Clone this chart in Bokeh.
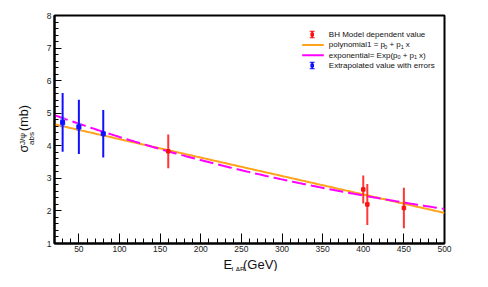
import numpy as np
from bokeh.plotting import figure
from bokeh.models import (SingleIntervalTicker, Label, BoxAnnotation)
from bokeh.embed import file_html
from bokeh.resources import INLINE

# ---- data ----
bh_x = [160, 400, 405, 450]
bh_y = [3.83, 2.66, 2.20, 2.09]
bh_err = [0.52, 0.43, 0.63, 0.62]

ext_x = [30, 50, 80]
ext_y = [4.72, 4.58, 4.37]
ext_err = [0.90, 0.83, 0.73]
ext_sys = [0.15, 0.12, 0.05]

# fit parameters
poly_p0, poly_p1 = 4.77, -0.00566
expo_p0, expo_p1 = 1.634, -0.001821
fit_range = [20, 500]

x_ticks_interval = 50
y_ticks_interval = 1

FONT = "Liberation Sans"
NB = "\u00a0"
W, H = 472, 271

p = figure(width=W, height=H, x_range=(20, 500), y_range=(1, 8),
           output_backend="svg", toolbar_location=None,
           min_border_left=54, min_border_right=28, min_border_top=15, min_border_bottom=28)
p.grid.visible = False
p.background_fill_color = "white"
p.border_fill_color = "white"
p.outline_line_color = "black"
p.outline_line_width = 2

p.xaxis.ticker = SingleIntervalTicker(interval=x_ticks_interval, num_minor_ticks=5)
p.yaxis.ticker = SingleIntervalTicker(interval=y_ticks_interval, num_minor_ticks=5)
for ax in (p.xaxis, p.yaxis):
    ax.axis_line_color = "black"
    ax.axis_line_width = 2
    ax.major_tick_out = 0
    ax.minor_tick_out = 0
    ax.major_tick_line_color = "black"
    ax.minor_tick_line_color = "black"
    ax.major_label_text_font = FONT
    ax.major_label_text_font_size = "8.5px"
    ax.major_label_text_color = "#222222"
p.xaxis.major_label_standoff = 2
p.yaxis.major_label_standoff = 3
p.xaxis.major_tick_in = 10
p.xaxis.minor_tick_in = 5
p.yaxis.major_tick_in = 7
p.yaxis.minor_tick_in = 4

# fits
xf = np.linspace(fit_range[0], fit_range[1], 200)
p.line(xf, poly_p0 + poly_p1 * xf, line_color="#ffa31a", line_width=2)
p.line(xf, np.exp(expo_p0 + expo_p1 * xf), line_color="#ff00ff", line_width=2,
       line_dash="14 5")

# extrapolated values (blue)
ex = np.array(ext_x, float); ey = np.array(ext_y); ee = np.array(ext_err)
p.rect(ex, ey, width=6, height=2 * np.array(ext_sys), fill_color="#7f95ff",
       fill_alpha=0.7, line_color=None)
p.segment(ex, ey - ee, ex, ey + ee, line_color="#1010ff", line_width=2)
p.scatter(ex, ey, marker="square", size=4, fill_color="#1010ff", line_color="#1010ff")

# BH model values (red)
bx = np.array(bh_x, float); by = np.array(bh_y); be = np.array(bh_err)
p.segment(bx, by - be, bx, by + be, line_color="#ff2020", line_width=2, line_alpha=0.9)
p.scatter(bx, by, marker="square", size=3.5, fill_color="#ff1010", line_color="#ff1010")

# ---- manual legend (frame-relative screen units) ----
rows = [209, 198.6, 188.3, 178]
icon_x = 257.7
def box(l, r, b, t, c):
    p.add_layout(BoxAnnotation(left=l, right=r, bottom=b, top=t,
                               left_units="screen", right_units="screen",
                               bottom_units="screen", top_units="screen",
                               fill_color=c, fill_alpha=1, line_color=None, level="overlay"))
def errbar_icon(yc, c):
    box(icon_x - 1, icon_x + 1, yc - 3.5, yc + 3.5, c)
    box(icon_x - 2.5, icon_x + 2.5, yc + 2.7, yc + 3.7, c)
    box(icon_x - 2.5, icon_x + 2.5, yc - 3.7, yc - 2.7, c)
    box(icon_x - 1.8, icon_x + 1.8, yc - 1.8, yc + 1.8, c)
errbar_icon(rows[0], "#ff1010")
box(247.7, 269.3, rows[1] - 1, rows[1] + 1, "#ffa31a")
box(247.7, 269.3, rows[2] - 1, rows[2] + 1, "#ff00ff")
errbar_icon(rows[3], "#1010ff")

def lab(x, y, t, size, place="center", **kw):
    L = Label(x=x, y=y, x_units="screen", y_units="screen", text=t,
              text_font=FONT, text_font_size=size, text_color="#111111", **kw)
    p.add_layout(L, place)

tx = 274.3
lab(tx, rows[0], "BH Model dependent value", "8px", text_baseline="middle")
lab(tx, rows[3], "Extrapolated value with errors", "8px", text_baseline="middle")

def formula_row(y, head, tail, a_off):
    A = tx + a_off
    B = A + 3.3 + 13.2
    lab(tx, y, head, "8px", text_baseline="middle")
    lab(A, y - 2, "0", "5.5px", text_baseline="middle")
    lab(B, y, "+ p", "8px", text_baseline="middle", text_align="right")
    lab(B, y - 2, "1", "5.5px", text_baseline="middle")
    lab(B + 5, y, tail, "8px", text_baseline="middle")

formula_row(rows[1], "polynomial1 = p", "x", 55.5)
formula_row(rows[2], "exponential= Exp(p", "x)", 68.7)

# ---- axis titles, placed in the side panels (annotations in the centre are clipped) ----
ang = np.pi / 2
lab(-6, 91, "σ" + NB * 4 + "(mb)", "12.5px", place="left",
    text_baseline="alphabetic", angle=ang)
lab(14.5, 98.5, "J/ψ\nabs", "8px", place="left", text_baseline="middle", angle=ang,
    text_line_height=0.9)
lab(169, 5, "E" + NB * 3 + "(GeV)", "13px", place="below", text_baseline="alphabetic")
lab(-213, -25.5, "LAB", "7px", place="right", text_baseline="alphabetic")

open("out.html", "w").write(file_html(p, INLINE))
